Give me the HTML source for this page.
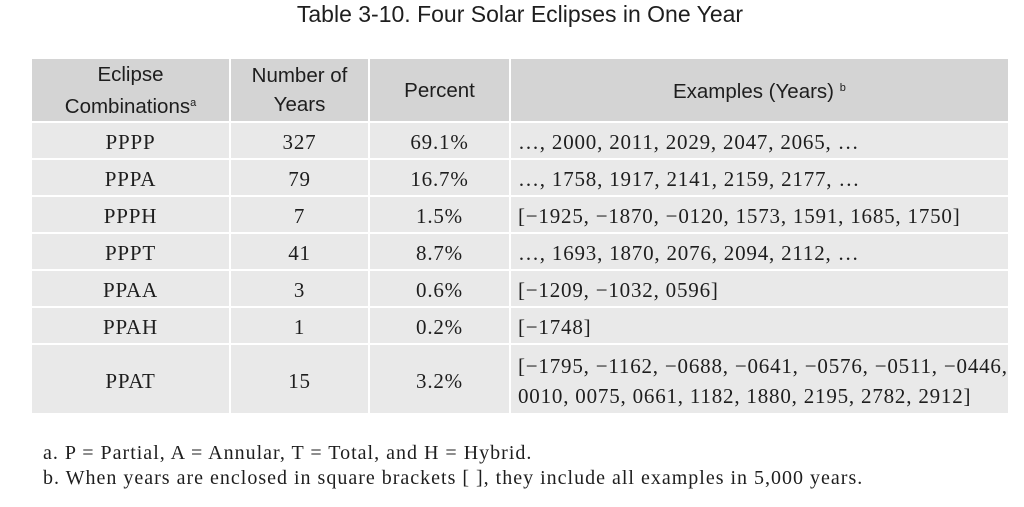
<!DOCTYPE html>
<html><head><style>
body{margin:0;width:1024px;height:507px;background:#fff;position:relative;overflow:hidden;color:#1e1e1e}
.t{position:absolute;top:0;left:0;width:1040px;text-align:center;font:23px "Liberation Sans",sans-serif;line-height:28px}
table{position:absolute;left:30px;top:57px;border-collapse:collapse;table-layout:fixed}
td,th{border:2px solid #fff;padding:0;text-align:center;white-space:nowrap;overflow:visible}
th{background:#d4d4d4;font:normal 20.5px "Liberation Sans",sans-serif;line-height:29px;height:62px}
td{background:#e9e9e9;font:21px "Liberation Serif",serif;letter-spacing:0.8px;height:33px;padding-top:2px;line-height:30px}
td.l{text-align:left;padding-left:7px}
tr.last td{height:64px;padding-top:4px}
sup{font-size:11px;vertical-align:7px}
.f{position:absolute;left:43px;font:20px "Liberation Serif",serif;letter-spacing:1px;white-space:nowrap}
</style></head><body>
<div class="t">Table 3-10. Four Solar Eclipses in One Year</div>
<table>
<tr><th style="width:197px">Eclipse<br>Combinations<sup>a</sup></th><th style="width:137px">Number of<br>Years</th><th style="width:139px">Percent</th><th style="width:496px">Examples (Years) <sup>b</sup></th></tr>
<tr><td>PPPP</td><td>327</td><td>69.1%</td><td class="l">…, 2000, 2011, 2029, 2047, 2065, …</td></tr>
<tr><td>PPPA</td><td>79</td><td>16.7%</td><td class="l">…, 1758, 1917, 2141, 2159, 2177, …</td></tr>
<tr><td>PPPH</td><td>7</td><td>1.5%</td><td class="l">[−1925, −1870, −0120, 1573, 1591, 1685, 1750]</td></tr>
<tr><td>PPPT</td><td>41</td><td>8.7%</td><td class="l">…, 1693, 1870, 2076, 2094, 2112, …</td></tr>
<tr><td>PPAA</td><td>3</td><td>0.6%</td><td class="l">[−1209, −1032, 0596]</td></tr>
<tr><td>PPAH</td><td>1</td><td>0.2%</td><td class="l">[−1748]</td></tr>
<tr class="last"><td>PPAT</td><td>15</td><td>3.2%</td><td class="l">[−1795, −1162, −0688, −0641, −0576, −0511, −0446,<br>0010, 0075, 0661, 1182, 1880, 2195, 2782, 2912]</td></tr>
</table>
<div class="f" style="top:442px">a. P = Partial, A = Annular, T = Total, and H = Hybrid.</div>
<div class="f" style="top:467px">b. When years are enclosed in square brackets [ ], they include all examples in 5,000 years.</div>
</body></html>
